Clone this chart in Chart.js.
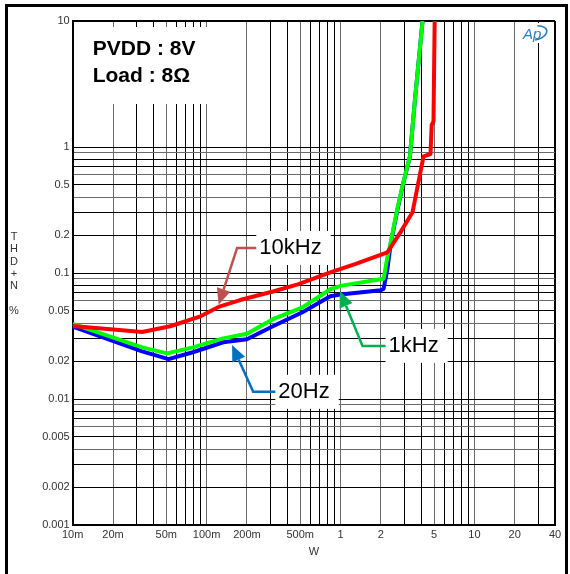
<!DOCTYPE html>
<html>
<head>
<meta charset="utf-8">
<script src="https://cdn.jsdelivr.net/npm/chart.js@4.4.0/dist/chart.umd.min.js"></script>
<style>
  html, body { margin: 0; padding: 0; background: #fff; }
</style>
</head>
<body>
<canvas id="myChart" width="570" height="574"></canvas>
<script>
// THD+N (%) vs output power (W), PVDD 8V, 8 ohm load
const w10k = [0.01, 0.033, 0.0535, 0.09, 0.126, 0.178, 0.313, 0.48, 0.84, 1.3, 2.24, 2.8, 3.45, 4.17, 4.7, 4.8, 4.95, 5.05];
const thd10k = [0.038, 0.034, 0.0378, 0.0453, 0.0544, 0.061, 0.0713, 0.0813, 0.101, 0.118, 0.146, 0.21, 0.303, 0.844, 0.88, 1.5, 1.6, 10];

const w1k = [0.01, 0.033, 0.0506, 0.079, 0.133, 0.2, 0.313, 0.52, 0.84, 1.0, 2.1, 2.24, 2.37, 2.65, 2.95, 3.3, 3.6, 4.1];
const thd1k = [0.0395, 0.0257, 0.023, 0.0257, 0.0303, 0.0330, 0.043, 0.0534, 0.0743, 0.079, 0.09, 0.134, 0.175, 0.32, 0.525, 0.844, 2.39, 10];

const w20 = [0.01, 0.033, 0.052, 0.079, 0.133, 0.2, 0.313, 0.52, 0.84, 1.0, 2.0, 2.1, 2.24, 2.37, 2.65, 2.95, 3.3, 3.6, 4.1];
const thd20 = [0.0375, 0.0239, 0.0207, 0.0235, 0.0282, 0.0298, 0.0378, 0.0488, 0.0653, 0.0676, 0.0729, 0.075, 0.107, 0.17, 0.31, 0.52, 0.84, 2.39, 10];

const xLabelValues = [0.01, 0.02, 0.05, 0.1, 0.2, 0.5, 1, 2, 5, 10, 20, 40];
const xLabels = ["10m", "20m", "50m", "100m", "200m", "500m", "1", "2", "5", "10", "20", "40"];
const yLabelValues = [0.001, 0.002, 0.005, 0.01, 0.02, 0.05, 0.1, 0.2, 0.5, 1, 2, 5, 10];
const yLabels = ["0.001", "0.002", "0.005", "0.01", "0.02", "0.05", "0.1", "0.2", "0.5", "1", "2", "5", "10"];

// callouts, anchored in data units: [W, THD]
const notes = [
  { text: "10kHz", color: "#c0504d", tip: [0.123, 0.056], elbow: [0.169, 0.158], end: [0.235, 0.158] },
  { text: "1kHz", color: "#00b050", tip: [0.99, 0.072], elbow: [1.46, 0.0264], end: [2.17, 0.0264] },
  { text: "20Hz", color: "#0070c0", tip: [0.155, 0.0268], elbow: [0.223, 0.0114], end: [0.326, 0.0114] }
];

const FONT = "'Liberation Sans', Arial, sans-serif";

function toPoints(xs, ys) {
  let pts = [];
  for (let i = 0; i < xs.length; i++) pts.push({ x: xs[i], y: ys[i] });
  return pts;
}

// grid positions: every 1..9 step of each decade
function decadeTicks(lo, hi) {
  let out = [];
  for (let d = lo; d <= hi * 1.0001; d *= 10) {
    for (let m = 1; m <= 9; m++) {
      let v = Number((m * d).toPrecision(3));
      if (v <= hi * 1.0001) out.push(v);
    }
  }
  return out;
}
let xGrid = decadeTicks(0.01, 10).concat([20, 30, 40]);
let yGrid = decadeTicks(0.001, 1).concat([10]);

function findLabel(values, labels, v) {
  for (let i = 0; i < values.length; i++) {
    if (Math.abs(values[i] - v) / values[i] < 1e-6) return labels[i];
  }
  return "";
}

function mantissa(v) {
  return Math.round(v / Math.pow(10, Math.floor(Math.log10(v) + 1e-9)));
}

const deco = {
  id: "deco",
  beforeDatasetsDraw(chart) {
    const ctx = chart.ctx;
    const xs = chart.scales.x, ys = chart.scales.y;
    const a = chart.chartArea;
    ctx.save();
    // condition box
    ctx.fillStyle = "#fff";
    ctx.fillRect(a.left + 10, a.top + 6, 139, 77);
    ctx.fillStyle = "#000";
    ctx.font = "bold 21px " + FONT;
    ctx.textBaseline = "alphabetic";
    ctx.fillText("PVDD : 8V", a.left + 20, a.top + 34);
    ctx.fillText("Load : 8\u03A9", a.left + 20, a.top + 61);
    // callout label boxes
    ctx.font = "22px " + FONT;
    notes.forEach(n => {
      let ex = xs.getPixelForValue(n.end[0]);
      let ey = ys.getPixelForValue(n.end[1]);
      let tw = ctx.measureText(n.text).width;
      ctx.fillStyle = "#fff";
      ctx.fillRect(ex, ey - 17, tw + 12, 34);
      ctx.fillStyle = "#000";
      ctx.fillText(n.text, ex + 3, ey + 6);
    });
    // Ap logo
    ctx.fillStyle = "#fff";
    ctx.fillRect(a.right - 38, a.top + 2, 34, 20);
    ctx.fillStyle = "#2a7fc1";
    ctx.strokeStyle = "#2a7fc1";
    ctx.font = "italic 15px " + FONT;
    ctx.fillText("Ap", a.right - 32, a.top + 18);
    ctx.lineWidth = 1.5;
    ctx.beginPath();
    ctx.ellipse(a.right - 21, a.top + 12, 13, 7, -0.2, -1.2, 1.6);
    ctx.stroke();
    ctx.restore();
  },
  afterDatasetsDraw(chart) {
    const ctx = chart.ctx;
    const xs = chart.scales.x, ys = chart.scales.y;
    ctx.save();
    notes.forEach(n => {
      let tx = xs.getPixelForValue(n.tip[0]), ty = ys.getPixelForValue(n.tip[1]);
      let bx = xs.getPixelForValue(n.elbow[0]), by = ys.getPixelForValue(n.elbow[1]);
      let ex = xs.getPixelForValue(n.end[0]), ey = ys.getPixelForValue(n.end[1]);
      let ang = Math.atan2(ty - by, tx - bx);
      let hl = 16, hw = 7;
      let hx = tx - hl * Math.cos(ang), hy = ty - hl * Math.sin(ang);
      ctx.strokeStyle = n.color;
      ctx.fillStyle = n.color;
      ctx.lineWidth = 2.5;
      ctx.beginPath();
      ctx.moveTo(ex, ey);
      ctx.lineTo(bx, by);
      ctx.lineTo(hx, hy);
      ctx.stroke();
      ctx.beginPath();
      ctx.moveTo(tx, ty);
      ctx.lineTo(hx + hw * Math.sin(ang), hy - hw * Math.cos(ang));
      ctx.lineTo(hx - hw * Math.sin(ang), hy + hw * Math.cos(ang));
      ctx.closePath();
      ctx.fill();
    });
    // y title, stacked letters
    ctx.fillStyle = "#333";
    ctx.font = "11px " + FONT;
    ctx.textAlign = "center";
    ctx.textBaseline = "middle";
    let letters = ["T", "H", "D", "+", "N", "", "%"];
    letters.forEach((c, i) => ctx.fillText(c, 14, 237 + i * 12.3));
    // outer frame
    ctx.strokeStyle = "#000";
    ctx.lineWidth = 3;
    ctx.strokeRect(6.5, 5.5, 560, 600);
    ctx.restore();
  }
};

const ctx = document.getElementById("myChart").getContext("2d");

new Chart(ctx, {
  type: "line",
  data: {
    datasets: [
      { label: "10kHz", data: toPoints(w10k, thd10k), borderColor: "#ff0000" },
      { label: "1kHz", data: toPoints(w1k, thd1k), borderColor: "#00ff00" },
      { label: "20Hz", data: toPoints(w20, thd20), borderColor: "#0000ff" }
    ]
  },
  options: {
    responsive: false,
    animation: false,
    layout: { padding: { top: 21, right: 15, left: 0, bottom: 0 } },
    elements: {
      line: { borderWidth: 4, tension: 0, borderJoinStyle: "round", borderCapStyle: "butt" },
      point: { radius: 0 }
    },
    plugins: {
      legend: { display: false },
      tooltip: { enabled: false }
    },
    scales: {
      x: {
        type: "logarithmic",
        min: 0.01,
        max: 40,
        afterBuildTicks: s => { s.ticks = xGrid.map(v => ({ value: v })); },
        afterFit: s => { s.height = 49; },
        ticks: {
          autoSkip: false,
          maxRotation: 0,
          padding: 3,
          color: "#333",
          font: { family: FONT, size: 11 },
          callback: v => findLabel(xLabelValues, xLabels, v)
        },
        grid: {
          drawTicks: false,
          lineWidth: c => (c.tick && c.tick.value >= 40 ? 2 : 1),
          color: c => {
            if (!c.tick) return "#000";
            let v = c.tick.value;
            if (v >= 40) return "#000";
            return findLabel(xLabelValues, xLabels, v) ? "#6a6a6a" : "#000";
          }
        },
        border: { display: true, color: "#000", width: 2 },
        title: {
          display: true,
          text: "W",
          color: "#333",
          font: { family: FONT, size: 11 },
          padding: { top: 4, bottom: 15 }
        }
      },
      y: {
        type: "logarithmic",
        min: 0.001,
        max: 10,
        afterBuildTicks: s => { s.ticks = yGrid.map(v => ({ value: v })); },
        afterFit: s => { s.width = 72.7; },
        ticks: {
          autoSkip: false,
          padding: 3,
          color: "#333",
          font: { family: FONT, size: 11 },
          callback: v => findLabel(yLabelValues, yLabels, v)
        },
        grid: {
          drawTicks: false,
          lineWidth: c => (c.tick && c.tick.value >= 10 ? 2 : 1),
          color: c => {
            if (!c.tick) return "#000";
            let m = mantissa(c.tick.value);
            if (c.tick.value >= 10) return "#000";
            return (m === 4 || m === 6 || m === 9) ? "#6a6a6a" : "#000";
          }
        },
        border: { display: true, color: "#000", width: 2 }
      }
    }
  },
  plugins: [deco]
});
</script>
</body>
</html>
